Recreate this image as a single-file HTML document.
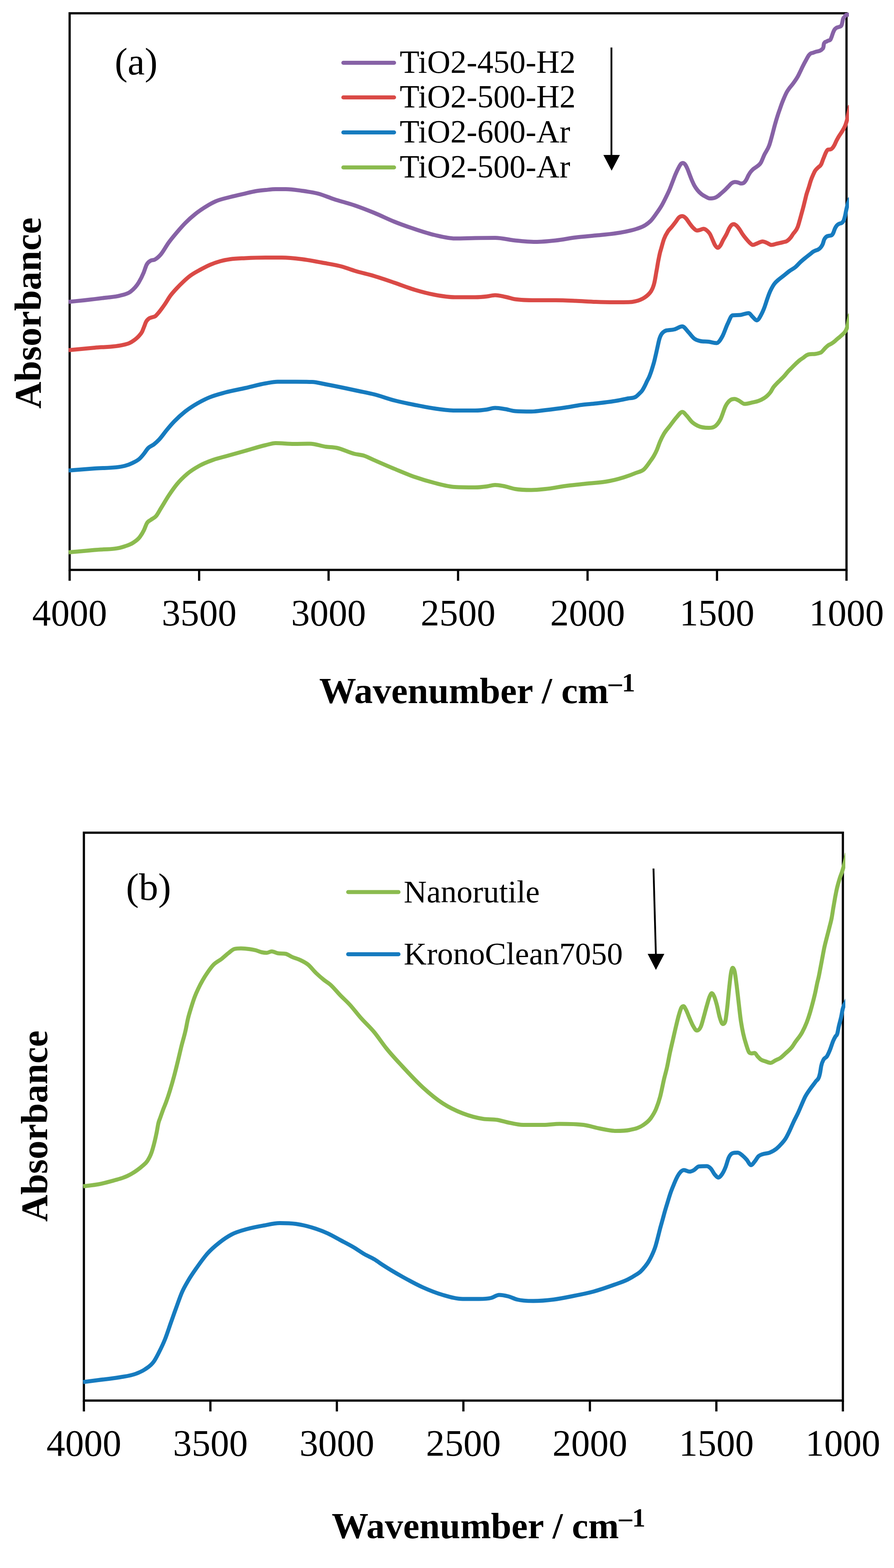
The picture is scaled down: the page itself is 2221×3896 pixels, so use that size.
<!DOCTYPE html>
<html><head><meta charset="utf-8"><title>FTIR spectra</title>
<style>
html,body{margin:0;padding:0;background:#fff;}
svg{display:block;}
.tick{font-family:"Liberation Serif","Times New Roman",serif;font-size:93px;text-anchor:middle;fill:#000;}
.leg{font-family:"Liberation Serif","Times New Roman",serif;font-size:80px;fill:#000;}
.lbl{font-family:"Liberation Serif","Times New Roman",serif;font-size:96px;fill:#000;}
.ttl{font-family:"Liberation Serif","Times New Roman",serif;font-size:93px;font-weight:bold;fill:#000;}
.wav{font-family:"Liberation Serif","Times New Roman",serif;font-size:92px;font-weight:bold;fill:#000;}
</style></head><body>
<svg width="2221" height="3896" viewBox="0 0 2221 3896">
<defs>
<clipPath id="ca"><rect x="150" y="0" width="1959" height="1500"/></clipPath>
<clipPath id="cb"><rect x="180" y="2000" width="1920" height="1600"/></clipPath>
</defs>
<rect width="2221" height="3896" fill="#fff"/>

<rect x="173.0" y="33.0" width="1930.0" height="1383.0" fill="none" stroke="#000" stroke-width="5.5"/>
<line x1="173.0" y1="1416.0" x2="173.0" y2="1443.0" stroke="#000" stroke-width="5.5"/>
<text x="173.0" y="1554.0" class="tick">4000</text>
<line x1="494.7" y1="1416.0" x2="494.7" y2="1443.0" stroke="#000" stroke-width="5.5"/>
<text x="494.7" y="1554.0" class="tick">3500</text>
<line x1="816.3" y1="1416.0" x2="816.3" y2="1443.0" stroke="#000" stroke-width="5.5"/>
<text x="816.3" y="1554.0" class="tick">3000</text>
<line x1="1138.0" y1="1416.0" x2="1138.0" y2="1443.0" stroke="#000" stroke-width="5.5"/>
<text x="1138.0" y="1554.0" class="tick">2500</text>
<line x1="1459.7" y1="1416.0" x2="1459.7" y2="1443.0" stroke="#000" stroke-width="5.5"/>
<text x="1459.7" y="1554.0" class="tick">2000</text>
<line x1="1781.3" y1="1416.0" x2="1781.3" y2="1443.0" stroke="#000" stroke-width="5.5"/>
<text x="1781.3" y="1554.0" class="tick">1500</text>
<line x1="2103.0" y1="1416.0" x2="2103.0" y2="1443.0" stroke="#000" stroke-width="5.5"/>
<text x="2103.0" y="1554.0" class="tick">1000</text>
<path d="M170.5 1372.5 C192.0 1370.5 213.5 1368.8 235.0 1366.5 C260.0 1363.9 285.0 1366.5 310.0 1357.5 C316.7 1355.1 323.3 1353.4 330.0 1349.0 C335.8 1345.2 341.7 1341.9 347.5 1334.0 C350.8 1329.5 354.2 1324.3 357.5 1317.5 C360.0 1312.4 362.5 1304.2 365.0 1300.0 C368.3 1294.3 371.7 1294.1 375.0 1291.5 C379.2 1288.2 383.3 1287.3 387.5 1282.5 C391.7 1277.7 395.8 1269.2 400.0 1262.5 C406.7 1251.8 413.3 1240.0 420.0 1230.0 C426.7 1220.0 433.3 1210.6 440.0 1202.5 C448.3 1192.4 456.7 1184.6 465.0 1177.5 C475.0 1169.0 485.0 1163.1 495.0 1157.5 C506.7 1151.0 518.3 1146.6 530.0 1142.5 C540.0 1139.0 550.0 1136.8 560.0 1134.0 C576.7 1129.3 593.3 1124.7 610.0 1120.0 C626.7 1115.3 643.3 1109.8 660.0 1106.0 C668.3 1104.1 676.7 1101.0 685.0 1101.0 C700.0 1101.0 715.0 1103.0 730.0 1103.0 C743.3 1103.0 756.7 1102.5 770.0 1102.5 C783.3 1102.5 796.7 1108.2 810.0 1110.0 C818.3 1111.1 826.7 1111.0 835.0 1112.5 C850.0 1115.2 865.0 1123.8 880.0 1127.5 C888.3 1129.6 896.7 1129.8 905.0 1132.5 C913.3 1135.2 921.7 1139.9 930.0 1143.5 C946.7 1150.8 963.3 1158.1 980.0 1165.0 C996.7 1171.9 1013.3 1179.2 1030.0 1185.0 C1046.7 1190.8 1063.3 1195.8 1080.0 1200.0 C1096.7 1204.2 1113.3 1209.0 1130.0 1210.0 C1146.7 1211.0 1163.3 1211.0 1180.0 1211.0 C1190.0 1211.0 1200.0 1209.9 1210.0 1208.5 C1216.7 1207.6 1223.3 1205.0 1230.0 1205.0 C1236.7 1205.0 1243.3 1206.3 1250.0 1207.5 C1260.0 1209.2 1270.0 1213.3 1280.0 1215.0 C1293.3 1217.3 1306.7 1217.5 1320.0 1217.5 C1331.7 1217.5 1343.3 1216.2 1355.0 1215.0 C1371.7 1213.3 1388.3 1209.7 1405.0 1207.5 C1420.0 1205.6 1435.0 1204.2 1450.0 1202.5 C1471.7 1200.1 1493.3 1199.5 1515.0 1195.0 C1526.7 1192.6 1538.3 1189.7 1550.0 1186.0 C1560.0 1182.8 1570.0 1179.2 1580.0 1175.0 C1586.7 1172.2 1593.3 1172.2 1600.0 1166.0 C1604.9 1161.4 1609.9 1154.0 1614.8 1147.0 C1618.1 1142.3 1621.4 1138.1 1624.7 1132.2 C1627.2 1127.8 1629.6 1123.1 1632.1 1117.4 C1634.6 1111.6 1637.1 1103.5 1639.6 1097.6 C1642.9 1089.8 1646.2 1083.5 1649.5 1077.8 C1654.4 1069.2 1659.4 1064.5 1664.3 1058.0 C1670.1 1050.4 1675.8 1042.0 1681.6 1035.8 C1686.1 1030.9 1690.7 1023.4 1695.2 1023.4 C1698.9 1023.4 1702.6 1029.5 1706.3 1033.3 C1710.4 1037.6 1714.6 1044.2 1718.7 1048.1 C1723.6 1052.8 1728.6 1055.5 1733.5 1058.0 C1742.6 1062.5 1751.6 1063.0 1760.7 1063.0 C1766.5 1063.0 1772.2 1063.0 1778.0 1058.0 C1782.1 1054.4 1786.3 1048.9 1790.4 1040.7 C1794.5 1032.5 1798.7 1016.4 1802.8 1008.6 C1806.9 1000.8 1811.0 996.5 1815.1 993.7 C1818.4 991.5 1821.7 991.3 1825.0 991.3 C1828.3 991.3 1831.6 993.5 1834.9 995.0 C1839.9 997.3 1844.8 1003.6 1849.8 1003.6 C1856.4 1003.6 1862.9 1001.4 1869.5 999.9 C1874.5 998.8 1879.4 998.2 1884.4 996.2 C1892.2 993.1 1899.9 989.7 1907.7 981.7 C1909.9 979.4 1912.2 977.2 1914.4 974.0 C1916.7 970.8 1918.9 965.7 1921.2 962.5 C1923.7 958.9 1926.3 956.5 1928.8 953.8 C1932.0 950.3 1935.3 947.4 1938.5 944.2 C1941.7 941.0 1944.9 938.1 1948.1 934.6 C1951.3 931.1 1954.5 926.6 1957.7 923.1 C1960.9 919.6 1964.1 916.7 1967.3 913.5 C1970.5 910.3 1973.7 906.9 1976.9 903.8 C1980.1 900.8 1983.3 897.7 1986.5 895.2 C1989.7 892.6 1993.0 890.9 1996.2 888.5 C1998.7 886.6 2001.3 884.1 2003.8 882.7 C2006.1 881.5 2008.3 880.7 2010.6 880.3 C2015.4 879.5 2020.2 880.2 2025.0 879.5 C2028.1 879.0 2031.2 878.5 2034.3 877.5 C2036.4 876.8 2038.4 876.6 2040.5 875.1 C2042.1 873.9 2043.8 871.8 2045.4 870.1 C2047.3 868.1 2049.1 865.8 2051.0 863.9 C2053.0 861.8 2055.1 859.9 2057.1 858.4 C2059.8 856.4 2062.5 855.8 2065.2 854.1 C2068.3 852.2 2071.3 849.9 2074.4 847.3 C2076.5 845.6 2078.5 843.5 2080.6 841.7 C2082.7 839.9 2084.7 838.5 2086.8 836.7 C2088.9 835.0 2090.9 833.2 2093.0 831.2 C2095.1 829.2 2097.1 827.6 2099.2 824.4 C2100.6 822.2 2102.1 820.7 2103.5 816.4 C2104.5 813.3 2105.6 809.6 2106.6 804.6 C2107.2 801.7 2107.8 797.7 2108.4 794.7 C2109.6 788.7 2110.8 784.9 2112.0 780.0" fill="none" stroke="#8BBB4F" stroke-width="10" stroke-linejoin="round" stroke-linecap="butt" clip-path="url(#ca)"/>
<path d="M170.5 1169.0 C192.0 1167.3 213.5 1165.8 235.0 1164.0 C260.0 1162.0 285.0 1164.0 310.0 1157.5 C316.7 1155.8 323.3 1153.4 330.0 1150.0 C335.8 1147.0 341.7 1144.6 347.5 1139.0 C350.8 1135.8 354.2 1131.7 357.5 1127.5 C360.8 1123.3 364.2 1117.6 367.5 1114.0 C372.5 1108.6 377.5 1108.0 382.5 1104.0 C386.7 1100.6 390.8 1096.9 395.0 1092.5 C401.7 1085.5 408.3 1075.5 415.0 1067.5 C420.8 1060.5 426.7 1053.6 432.5 1047.5 C441.7 1037.9 450.8 1029.8 460.0 1022.5 C470.0 1014.6 480.0 1008.3 490.0 1002.5 C500.0 996.7 510.0 991.7 520.0 987.5 C533.3 981.9 546.7 978.6 560.0 975.0 C576.7 970.5 593.3 967.8 610.0 964.0 C626.7 960.2 643.3 955.3 660.0 952.5 C670.0 950.8 680.0 948.5 690.0 948.5 C705.0 948.5 720.0 948.5 735.0 948.5 C748.3 948.5 761.7 948.5 775.0 949.0 C786.7 949.4 798.3 952.9 810.0 955.0 C826.7 958.1 843.3 961.5 860.0 965.0 C869.3 967.0 878.7 969.0 888.0 971.0 C902.0 974.0 916.0 976.5 930.0 980.0 C946.7 984.2 963.3 990.7 980.0 995.0 C996.7 999.3 1013.3 1002.7 1030.0 1006.0 C1046.7 1009.3 1063.3 1012.7 1080.0 1015.0 C1096.7 1017.3 1113.3 1020.0 1130.0 1020.0 C1146.7 1020.0 1163.3 1020.0 1180.0 1020.0 C1190.0 1020.0 1200.0 1019.0 1210.0 1017.5 C1216.7 1016.5 1223.3 1013.5 1230.0 1013.5 C1238.3 1013.5 1246.7 1015.2 1255.0 1016.5 C1263.3 1017.8 1271.7 1020.9 1280.0 1021.5 C1293.3 1022.5 1306.7 1022.5 1320.0 1022.5 C1331.7 1022.5 1343.3 1020.3 1355.0 1019.0 C1371.7 1017.1 1388.3 1015.0 1405.0 1012.5 C1418.3 1010.5 1431.7 1007.7 1445.0 1006.0 C1456.7 1004.5 1468.3 1003.8 1480.0 1002.5 C1496.7 1000.6 1513.3 998.9 1530.0 996.0 C1540.0 994.3 1550.0 992.1 1560.0 990.0 C1566.7 988.6 1573.3 990.0 1580.0 985.5 C1582.6 983.7 1585.2 981.1 1587.8 978.5 C1590.4 975.9 1593.1 973.8 1595.7 969.9 C1597.8 966.9 1599.8 963.0 1601.9 958.9 C1603.7 955.3 1605.6 951.0 1607.4 947.2 C1609.2 943.4 1611.1 940.5 1612.9 936.2 C1614.5 932.5 1616.0 928.3 1617.6 923.7 C1618.9 919.9 1620.2 915.5 1621.5 911.2 C1622.8 906.9 1624.1 902.9 1625.4 897.8 C1626.4 893.8 1627.5 889.0 1628.5 884.5 C1629.6 879.9 1630.6 875.3 1631.7 870.5 C1632.7 865.9 1633.8 861.0 1634.8 856.4 C1635.8 851.8 1636.9 846.8 1637.9 843.1 C1639.2 838.5 1640.5 835.6 1641.8 832.9 C1643.9 828.5 1646.0 826.9 1648.1 825.0 C1650.4 822.8 1652.8 821.8 1655.1 821.1 C1656.7 820.6 1658.4 820.7 1660.0 820.5 C1665.0 819.9 1670.0 819.7 1675.0 818.5 C1681.7 816.9 1688.3 811.0 1695.0 811.0 C1700.0 811.0 1705.0 819.9 1710.0 825.0 C1715.0 830.1 1720.0 837.8 1725.0 841.5 C1730.0 845.2 1735.0 846.4 1740.0 847.5 C1746.7 849.0 1753.3 848.2 1760.0 849.0 C1766.7 849.8 1773.3 852.5 1780.0 852.5 C1785.0 852.5 1790.0 844.2 1795.0 835.0 C1799.2 827.3 1803.3 813.6 1807.5 805.0 C1811.7 796.4 1815.8 784.1 1820.0 783.5 C1826.7 782.5 1833.3 783.4 1840.0 782.5 C1846.7 781.6 1853.3 778.0 1860.0 778.0 C1863.3 778.0 1866.7 784.5 1870.0 787.5 C1873.3 790.5 1876.7 796.0 1880.0 796.0 C1883.8 796.0 1887.7 788.2 1891.5 781.0 C1894.1 776.2 1896.6 770.4 1899.2 763.5 C1901.1 758.3 1903.1 751.8 1905.0 746.2 C1906.9 740.6 1908.9 734.6 1910.8 729.8 C1912.7 725.0 1914.6 721.0 1916.5 717.3 C1918.8 712.8 1921.0 709.0 1923.3 705.8 C1926.8 700.8 1930.3 698.4 1933.8 695.2 C1938.3 691.1 1942.8 688.2 1947.3 684.6 C1952.1 680.8 1956.9 676.6 1961.7 673.1 C1966.5 669.6 1971.4 667.6 1976.2 663.5 C1980.4 660.0 1984.5 654.9 1988.7 651.0 C1992.9 647.1 1997.0 643.8 2001.2 640.4 C2005.7 636.7 2010.1 633.4 2014.6 629.8 C2016.4 628.4 2018.2 626.7 2020.0 625.5 C2022.2 624.1 2024.3 623.4 2026.5 622.4 C2028.7 621.4 2030.8 621.2 2033.0 619.8 C2035.2 618.4 2037.4 617.0 2039.6 613.9 C2041.1 611.8 2042.6 609.9 2044.1 606.1 C2045.2 603.3 2046.3 598.4 2047.4 595.7 C2049.1 591.4 2050.9 590.1 2052.6 588.5 C2054.8 586.4 2056.9 586.5 2059.1 585.9 C2061.3 585.2 2063.5 585.9 2065.7 584.6 C2067.2 583.7 2068.7 581.8 2070.2 578.7 C2071.5 576.1 2072.8 571.2 2074.1 568.3 C2075.6 564.9 2077.2 562.5 2078.7 560.5 C2080.9 557.7 2083.0 557.1 2085.2 555.9 C2087.4 554.7 2089.6 555.4 2091.8 553.3 C2093.3 551.9 2094.8 551.3 2096.3 547.4 C2097.4 544.5 2098.5 540.5 2099.6 535.7 C2100.5 531.9 2101.3 526.6 2102.2 522.6 C2103.1 518.6 2103.9 514.8 2104.8 511.5 C2105.7 508.2 2106.5 505.6 2107.4 503.0 C2108.9 498.5 2110.5 495.7 2112.0 492.0" fill="none" stroke="#167BBF" stroke-width="10" stroke-linejoin="round" stroke-linecap="butt" clip-path="url(#ca)"/>
<path d="M170.5 870.0 C192.0 868.0 213.5 866.1 235.0 864.0 C259.5 861.6 284.0 863.0 308.5 856.4 C312.6 855.3 316.8 854.6 320.9 852.7 C325.0 850.9 329.2 848.4 333.3 845.3 C337.4 842.2 341.5 839.0 345.6 834.2 C348.1 831.3 350.5 829.3 353.0 824.3 C354.7 820.9 356.3 816.1 358.0 811.9 C359.6 807.8 361.3 802.8 362.9 799.6 C365.0 795.6 367.0 793.9 369.1 792.1 C372.0 789.5 374.9 789.5 377.8 788.4 C380.3 787.5 382.7 787.6 385.2 786.0 C387.7 784.4 390.1 781.3 392.6 778.5 C395.5 775.2 398.4 771.3 401.3 767.4 C403.8 764.1 406.3 760.6 408.8 757.0 C413.7 749.9 418.7 741.0 423.6 734.3 C428.6 727.6 433.5 722.4 438.5 717.0 C444.3 710.7 450.0 705.0 455.8 699.6 C461.6 694.2 467.3 689.1 473.1 684.8 C481.3 678.6 489.6 674.5 497.8 670.0 C506.1 665.5 514.3 661.1 522.6 657.6 C530.8 654.1 539.1 651.3 547.3 649.0 C555.5 646.7 563.8 645.2 572.0 644.0 C584.4 642.2 596.7 642.1 609.1 641.5 C626.1 640.6 643.0 640.0 660.0 640.0 C673.3 640.0 686.7 640.0 700.0 640.0 C716.7 640.0 733.3 641.9 750.0 644.0 C766.7 646.1 783.3 649.4 800.0 652.5 C816.7 655.6 833.3 657.8 850.0 662.5 C860.0 665.3 870.0 669.4 880.0 672.5 C896.7 677.7 913.3 681.0 930.0 686.0 C946.7 691.0 963.3 696.8 980.0 702.5 C996.7 708.2 1013.3 715.0 1030.0 720.0 C1046.7 725.0 1063.3 729.4 1080.0 732.5 C1096.7 735.6 1113.3 738.5 1130.0 738.5 C1146.7 738.5 1163.3 738.5 1180.0 738.5 C1190.0 738.5 1200.0 737.7 1210.0 736.5 C1216.7 735.7 1223.3 733.5 1230.0 733.5 C1238.3 733.5 1246.7 735.8 1255.0 737.5 C1263.3 739.2 1271.7 742.2 1280.0 743.5 C1296.7 746.0 1313.3 746.0 1330.0 746.0 C1346.7 746.0 1363.3 746.0 1380.0 746.0 C1396.7 746.0 1413.3 746.8 1430.0 747.5 C1446.7 748.2 1463.3 749.4 1480.0 750.0 C1496.7 750.6 1513.3 751.0 1530.0 751.0 C1540.7 751.0 1551.3 751.0 1562.0 750.8 C1567.5 750.7 1573.0 749.9 1578.5 748.6 C1582.2 747.7 1585.8 746.8 1589.5 745.3 C1593.1 743.8 1596.8 742.2 1600.4 739.8 C1603.7 737.7 1607.0 735.4 1610.3 732.1 C1612.5 729.9 1614.7 728.0 1616.9 724.4 C1618.7 721.4 1620.6 718.6 1622.4 713.4 C1623.5 710.3 1624.6 707.2 1625.7 702.4 C1626.4 699.2 1627.2 695.4 1627.9 691.4 C1628.6 687.4 1629.4 682.4 1630.1 678.2 C1630.8 674.0 1631.6 670.4 1632.3 666.2 C1633.0 662.0 1633.8 657.1 1634.5 653.0 C1635.4 647.8 1636.4 643.2 1637.3 638.7 C1638.2 634.4 1639.1 630.1 1640.0 626.6 C1640.7 623.7 1641.5 621.5 1642.2 619.0 C1644.6 610.6 1647.1 601.0 1649.5 594.2 C1652.8 585.1 1656.0 580.1 1659.3 575.0 C1662.5 569.9 1665.8 567.6 1669.0 563.6 C1672.2 559.7 1675.4 555.5 1678.6 551.3 C1681.3 547.7 1684.1 542.7 1686.8 540.3 C1689.7 537.8 1692.5 537.1 1695.4 537.1 C1698.3 537.1 1701.3 539.7 1704.2 542.6 C1707.1 545.5 1710.1 550.9 1713.0 554.7 C1715.9 558.6 1718.9 562.8 1721.8 565.7 C1725.1 569.0 1728.3 572.8 1731.6 572.8 C1734.2 572.8 1736.7 571.9 1739.3 571.2 C1742.2 570.4 1745.2 568.4 1748.1 568.4 C1751.0 568.4 1754.0 570.8 1756.9 573.4 C1759.1 575.4 1761.3 577.4 1763.5 581.0 C1765.7 584.6 1767.9 590.5 1770.1 595.3 C1772.3 600.1 1774.5 606.2 1776.7 609.6 C1778.9 613.0 1781.1 615.7 1783.3 615.7 C1785.5 615.7 1787.7 612.8 1789.9 609.6 C1792.1 606.4 1794.3 600.5 1796.5 596.4 C1799.1 591.6 1801.6 588.1 1804.2 583.2 C1806.8 578.3 1809.3 571.2 1811.9 566.8 C1813.7 563.7 1815.6 560.8 1817.4 559.1 C1819.2 557.5 1821.1 556.9 1822.9 556.9 C1825.4 556.9 1828.0 558.9 1830.5 561.3 C1833.1 563.7 1835.6 567.4 1838.2 571.2 C1840.3 574.2 1842.3 578.1 1844.4 581.2 C1847.6 586.0 1850.8 589.9 1854.0 593.7 C1856.6 596.8 1859.1 599.9 1861.7 602.3 C1864.6 605.0 1867.5 608.6 1870.4 608.6 C1873.6 608.6 1876.8 606.4 1880.0 605.2 C1884.8 603.5 1889.6 599.9 1894.4 599.9 C1897.9 599.9 1901.5 601.9 1905.0 603.3 C1908.8 604.8 1912.7 608.6 1916.5 608.6 C1921.3 608.6 1926.2 606.3 1931.0 605.2 C1935.8 604.1 1940.6 603.1 1945.4 601.8 C1948.6 600.9 1951.8 600.9 1955.0 598.9 C1958.2 596.9 1961.4 593.9 1964.6 589.8 C1966.6 587.3 1968.5 583.9 1970.5 581.0 C1974.2 575.5 1977.9 574.4 1981.6 564.3 C1983.3 559.8 1984.9 553.7 1986.6 547.9 C1988.1 542.7 1989.6 537.0 1991.1 531.5 C1992.6 526.0 1994.1 520.8 1995.6 515.0 C1997.0 509.8 1998.3 504.1 1999.7 498.6 C2001.1 493.1 2002.4 487.1 2003.8 482.2 C2005.6 475.7 2007.4 471.5 2009.2 465.7 C2010.8 460.5 2012.5 454.2 2014.1 449.3 C2016.3 442.7 2018.5 437.7 2020.7 432.9 C2022.1 429.9 2023.4 427.0 2024.8 424.7 C2027.3 420.5 2029.7 419.0 2032.2 416.4 C2034.8 413.6 2037.4 413.7 2040.0 408.5 C2041.5 405.4 2043.1 400.4 2044.6 396.5 C2045.9 393.1 2047.3 389.7 2048.6 386.5 C2049.7 383.8 2050.9 380.7 2052.0 378.5 C2053.5 375.5 2055.1 372.2 2056.6 371.8 C2058.8 371.2 2061.1 371.8 2063.3 371.2 C2065.1 370.7 2066.8 369.3 2068.6 367.2 C2070.2 365.4 2071.7 362.8 2073.3 359.9 C2074.8 357.0 2076.4 353.0 2077.9 349.9 C2079.7 346.3 2081.5 343.0 2083.3 339.9 C2085.5 336.2 2087.7 333.4 2089.9 329.9 C2091.9 326.7 2093.9 323.8 2095.9 319.9 C2097.5 316.9 2099.0 314.2 2100.6 309.9 C2101.9 306.2 2103.3 302.3 2104.6 296.6 C2105.7 291.9 2106.8 285.2 2107.9 280.0 C2109.3 273.5 2110.6 268.0 2112.0 262.0" fill="none" stroke="#DA4A46" stroke-width="10" stroke-linejoin="round" stroke-linecap="butt" clip-path="url(#ca)"/>
<path d="M170.5 750.0 C183.7 748.7 196.8 747.4 210.0 746.0 C226.7 744.2 243.3 742.3 260.0 740.0 C273.3 738.2 286.7 738.0 300.0 734.0 C308.2 731.6 316.5 731.0 324.7 724.4 C331.3 719.1 337.9 713.0 344.5 702.1 C348.6 695.2 352.8 687.4 356.9 677.4 C359.4 671.4 361.8 662.4 364.3 657.6 C367.6 651.1 370.9 649.8 374.2 647.7 C377.5 645.6 380.8 646.8 384.1 645.2 C389.0 642.8 394.0 638.4 398.9 632.9 C405.5 625.5 412.1 612.3 418.7 603.2 C425.3 594.1 431.9 586.3 438.5 578.5 C445.9 569.7 453.3 561.2 460.7 553.7 C469.0 545.3 477.2 538.1 485.5 531.5 C493.7 524.9 502.0 519.4 510.2 514.2 C518.4 509.1 526.7 504.3 534.9 500.6 C547.3 495.0 559.6 492.8 572.0 489.5 C584.4 486.2 596.7 483.6 609.1 480.8 C617.7 478.8 626.4 476.5 635.0 475.0 C643.3 473.6 651.7 472.8 660.0 472.0 C668.3 471.2 676.7 470.0 685.0 470.0 C693.3 470.0 701.7 470.0 710.0 470.0 C723.3 470.0 736.7 472.2 750.0 474.0 C763.3 475.8 776.7 477.5 790.0 481.0 C803.3 484.5 816.7 490.6 830.0 495.0 C846.7 500.5 863.3 504.3 880.0 510.0 C896.7 515.7 913.3 522.2 930.0 529.0 C946.7 535.8 963.3 544.3 980.0 551.0 C996.7 557.7 1013.3 563.5 1030.0 569.0 C1046.7 574.5 1063.3 580.1 1080.0 584.0 C1096.7 587.9 1113.3 592.5 1130.0 592.5 C1146.7 592.5 1163.3 591.8 1180.0 591.5 C1196.7 591.2 1213.3 591.0 1230.0 591.0 C1246.7 591.0 1263.3 595.8 1280.0 597.5 C1296.7 599.2 1313.3 601.0 1330.0 601.0 C1346.7 601.0 1363.3 599.3 1380.0 597.5 C1396.7 595.7 1413.3 592.1 1430.0 590.0 C1446.7 587.9 1463.3 586.7 1480.0 585.0 C1495.8 583.4 1511.7 582.3 1527.5 580.0 C1536.7 578.7 1545.8 577.2 1555.0 575.3 C1564.1 573.4 1573.3 571.6 1582.4 568.4 C1589.3 566.0 1596.1 564.0 1603.0 559.5 C1607.6 556.5 1612.2 553.3 1616.8 548.5 C1621.4 543.7 1625.9 537.1 1630.5 530.7 C1635.1 524.3 1639.6 518.0 1644.2 510.0 C1648.0 503.4 1651.7 495.8 1655.5 488.0 C1658.2 482.4 1661.0 476.9 1663.7 470.4 C1666.1 464.7 1668.5 458.0 1670.9 451.8 C1673.3 445.6 1675.7 439.0 1678.1 433.3 C1680.5 427.6 1682.9 422.3 1685.3 417.8 C1687.4 413.9 1689.4 409.6 1691.5 407.5 C1693.2 405.7 1695.0 405.0 1696.7 405.0 C1698.7 405.0 1700.8 406.7 1702.8 409.6 C1704.5 412.1 1706.3 415.9 1708.0 419.9 C1709.7 423.8 1711.4 428.9 1713.1 433.3 C1714.8 437.8 1716.6 442.6 1718.3 446.7 C1720.4 451.6 1722.4 456.2 1724.5 460.1 C1727.2 465.2 1730.0 468.9 1732.7 472.4 C1736.1 476.8 1739.6 479.9 1743.0 482.7 C1746.4 485.4 1749.9 487.2 1753.3 488.9 C1756.7 490.6 1760.2 493.0 1763.6 493.0 C1767.0 493.0 1770.5 493.0 1773.9 492.0 C1777.3 491.0 1780.8 489.4 1784.2 486.8 C1786.1 485.4 1788.1 483.4 1790.0 481.7 C1793.1 479.0 1796.2 476.6 1799.3 473.7 C1802.4 470.8 1805.4 467.5 1808.5 464.4 C1811.6 461.3 1814.7 457.1 1817.8 455.1 C1820.5 453.4 1823.1 452.3 1825.8 452.3 C1828.3 452.3 1830.8 452.7 1833.3 453.3 C1835.8 453.9 1838.2 456.0 1840.7 456.0 C1843.0 456.0 1845.2 456.0 1847.5 454.5 C1849.6 453.1 1851.6 450.5 1853.7 447.1 C1855.5 444.1 1857.4 439.3 1859.2 436.0 C1860.9 433.0 1862.5 430.2 1864.2 427.9 C1866.2 425.1 1868.3 423.0 1870.3 421.1 C1872.8 418.7 1875.3 417.6 1877.8 415.6 C1882.0 412.3 1886.1 411.4 1890.3 404.1 C1893.0 399.3 1895.8 391.2 1898.5 385.3 C1902.8 376.1 1907.0 372.8 1911.3 360.3 C1913.7 353.3 1916.1 344.0 1918.5 335.2 C1920.7 327.2 1922.9 318.0 1925.1 310.1 C1927.6 301.1 1930.1 292.8 1932.6 285.1 C1934.3 279.8 1936.1 275.0 1937.8 270.0 C1939.3 265.7 1940.8 261.3 1942.3 257.3 C1944.2 252.1 1946.2 247.4 1948.1 242.9 C1950.3 237.7 1952.6 232.6 1954.8 228.5 C1957.0 224.6 1959.1 221.8 1961.3 218.8 C1963.9 215.3 1966.4 212.6 1969.0 209.2 C1971.3 206.1 1973.7 203.1 1976.0 199.6 C1978.0 196.6 1980.0 193.6 1982.0 190.0 C1983.7 187.0 1985.3 183.4 1987.0 180.0 C1989.4 175.1 1991.8 169.8 1994.2 165.0 C1997.2 159.0 2000.2 153.3 2003.2 148.0 C2005.3 144.3 2007.3 140.1 2009.4 137.4 C2010.8 135.6 2012.1 134.3 2013.5 133.3 C2015.6 131.8 2017.6 131.9 2019.7 131.2 C2022.5 130.3 2025.2 129.1 2028.0 128.3 C2030.7 127.5 2033.5 127.6 2036.2 126.3 C2038.3 125.3 2040.3 124.8 2042.4 122.1 C2043.5 120.7 2044.6 122.1 2045.7 116.8 C2046.0 115.5 2046.2 112.3 2046.5 110.6 C2047.2 106.2 2047.9 106.8 2048.6 105.7 C2050.0 103.6 2051.3 104.3 2052.7 103.6 C2054.1 102.8 2055.6 102.0 2057.0 101.2 C2059.1 100.1 2061.1 101.2 2063.2 98.2 C2064.2 96.7 2065.3 93.7 2066.3 90.9 C2067.3 88.2 2068.4 84.4 2069.4 81.7 C2070.6 78.6 2071.8 75.9 2073.0 73.9 C2074.9 70.8 2076.7 70.0 2078.6 68.8 C2080.8 67.4 2083.1 67.9 2085.3 66.7 C2087.0 65.8 2088.8 66.7 2090.5 63.1 C2091.2 61.6 2091.9 59.0 2092.6 55.9 C2093.1 53.7 2093.6 50.3 2094.1 48.2 C2095.5 42.5 2096.8 44.0 2098.2 42.0 C2099.4 40.3 2100.6 37.4 2101.8 37.0 C2103.2 36.5 2104.6 36.5 2106.0 36.5 C2108.0 36.5 2110.0 36.5 2112.0 36.5" fill="none" stroke="#8762A6" stroke-width="10" stroke-linejoin="round" stroke-linecap="butt" clip-path="url(#ca)"/>
<text x="285" y="184.5" class="lbl">(a)</text>
<line x1="853" y1="156.0" x2="979" y2="156.0" stroke="#8762A6" stroke-width="10" stroke-linecap="round"/>
<text x="993" y="181.0" class="leg">TiO2-450-H2</text>
<line x1="853" y1="242.0" x2="979" y2="242.0" stroke="#DA4A46" stroke-width="10" stroke-linecap="round"/>
<text x="993" y="267.0" class="leg">TiO2-500-H2</text>
<line x1="853" y1="329.0" x2="979" y2="329.0" stroke="#167BBF" stroke-width="10" stroke-linecap="round"/>
<text x="993" y="354.0" class="leg">TiO2-600-Ar</text>
<line x1="853" y1="416.0" x2="979" y2="416.0" stroke="#8BBB4F" stroke-width="10" stroke-linecap="round"/>
<text x="993" y="441.0" class="leg">TiO2-500-Ar</text>
<line x1="1519" y1="118" x2="1519" y2="390" stroke="#000" stroke-width="4.5"/>
<polygon points="1499,385 1540,385 1519.5,424" fill="#000"/>
<text transform="translate(100.5,777.8) rotate(-90)" text-anchor="middle" class="ttl">Absorbance</text>
<text x="793" y="1746.5" class="wav">Wavenumber / cm<tspan font-size="66" dy="-29">–1</tspan></text>
<rect x="208.4" y="2069.0" width="1885.6" height="1411.0" fill="none" stroke="#000" stroke-width="5.5"/>
<line x1="208.4" y1="3480.0" x2="208.4" y2="3507.0" stroke="#000" stroke-width="5.5"/>
<text x="208.4" y="3617.0" class="tick">4000</text>
<line x1="522.7" y1="3480.0" x2="522.7" y2="3507.0" stroke="#000" stroke-width="5.5"/>
<text x="522.7" y="3617.0" class="tick">3500</text>
<line x1="836.9" y1="3480.0" x2="836.9" y2="3507.0" stroke="#000" stroke-width="5.5"/>
<text x="836.9" y="3617.0" class="tick">3000</text>
<line x1="1151.2" y1="3480.0" x2="1151.2" y2="3507.0" stroke="#000" stroke-width="5.5"/>
<text x="1151.2" y="3617.0" class="tick">2500</text>
<line x1="1465.5" y1="3480.0" x2="1465.5" y2="3507.0" stroke="#000" stroke-width="5.5"/>
<text x="1465.5" y="3617.0" class="tick">2000</text>
<line x1="1779.7" y1="3480.0" x2="1779.7" y2="3507.0" stroke="#000" stroke-width="5.5"/>
<text x="1779.7" y="3617.0" class="tick">1500</text>
<line x1="2094.0" y1="3480.0" x2="2094.0" y2="3507.0" stroke="#000" stroke-width="5.5"/>
<text x="2094.0" y="3617.0" class="tick">1000</text>
<path d="M206.5 3434.0 C219.3 3432.3 232.2 3430.7 245.0 3429.0 C261.7 3426.8 278.3 3425.5 295.0 3422.5 C310.0 3419.8 325.0 3418.7 340.0 3412.5 C346.7 3409.7 353.3 3407.1 360.0 3402.5 C367.5 3397.4 375.0 3393.6 382.5 3382.5 C386.7 3376.4 390.8 3368.2 395.0 3360.0 C400.0 3350.2 405.0 3340.0 410.0 3327.5 C415.0 3315.0 420.0 3299.1 425.0 3285.0 C429.2 3273.3 433.3 3261.4 437.5 3250.0 C442.5 3236.3 447.5 3221.3 452.5 3210.0 C457.5 3198.7 462.5 3190.6 467.5 3182.0 C475.0 3169.1 482.5 3158.7 490.0 3148.0 C498.3 3136.2 506.7 3124.5 515.0 3115.0 C525.0 3103.6 535.0 3095.4 545.0 3087.5 C555.0 3079.6 565.0 3072.8 575.0 3067.5 C588.3 3060.4 601.7 3057.2 615.0 3053.5 C628.3 3049.8 641.7 3047.4 655.0 3045.0 C668.3 3042.6 681.7 3039.0 695.0 3039.0 C708.3 3039.0 721.7 3039.2 735.0 3041.0 C748.3 3042.8 761.7 3046.0 775.0 3050.0 C788.3 3054.0 801.7 3058.8 815.0 3065.0 C825.0 3069.7 835.0 3075.6 845.0 3081.0 C856.7 3087.3 868.3 3093.0 880.0 3100.0 C888.3 3105.0 896.7 3111.2 905.0 3116.0 C913.3 3120.8 921.7 3123.9 930.0 3129.0 C936.7 3133.0 943.3 3138.1 950.0 3142.5 C966.7 3153.4 983.3 3163.2 1000.0 3172.5 C1016.7 3181.8 1033.3 3191.0 1050.0 3198.5 C1066.7 3206.0 1083.3 3212.7 1100.0 3217.5 C1116.7 3222.3 1133.3 3227.5 1150.0 3227.5 C1163.3 3227.5 1176.7 3227.5 1190.0 3227.5 C1200.0 3227.5 1210.0 3227.5 1220.0 3225.0 C1226.7 3223.3 1233.3 3217.5 1240.0 3217.5 C1247.5 3217.5 1255.0 3219.1 1262.5 3221.0 C1270.0 3222.9 1277.5 3227.1 1285.0 3229.0 C1298.3 3232.5 1311.7 3232.5 1325.0 3232.5 C1341.7 3232.5 1358.3 3231.1 1375.0 3229.0 C1391.7 3226.9 1408.3 3223.3 1425.0 3220.0 C1441.7 3216.7 1458.3 3213.6 1475.0 3209.0 C1491.7 3204.4 1508.3 3198.5 1525.0 3192.5 C1536.7 3188.3 1548.3 3184.9 1560.0 3179.0 C1566.7 3175.6 1573.3 3171.8 1580.0 3167.4 C1583.7 3165.0 1587.3 3163.0 1591.0 3159.7 C1594.6 3156.4 1598.3 3152.3 1601.9 3147.7 C1604.8 3144.0 1607.8 3140.4 1610.7 3135.6 C1613.3 3131.4 1615.8 3126.8 1618.4 3121.4 C1621.7 3114.5 1624.9 3107.8 1628.2 3097.3 C1630.2 3090.9 1632.2 3083.0 1634.2 3075.3 C1636.0 3068.3 1637.9 3060.4 1639.7 3053.4 C1641.7 3045.7 1643.8 3038.9 1645.8 3031.5 C1647.8 3024.3 1649.8 3016.6 1651.8 3009.6 C1654.0 3001.9 1656.2 2994.9 1658.4 2987.7 C1660.7 2980.3 1662.9 2972.5 1665.2 2965.8 C1668.0 2957.5 1670.9 2950.7 1673.7 2943.8 C1676.1 2938.0 1678.4 2932.1 1680.8 2927.4 C1683.7 2921.5 1686.7 2916.5 1689.6 2913.2 C1692.8 2909.6 1695.9 2907.3 1699.1 2907.3 C1703.6 2907.3 1708.2 2911.1 1712.7 2911.1 C1716.4 2911.1 1720.2 2909.3 1723.9 2907.3 C1728.0 2905.1 1732.1 2898.6 1736.2 2898.2 C1742.8 2897.5 1749.4 2897.5 1756.0 2897.5 C1759.3 2897.5 1762.6 2900.1 1765.9 2903.6 C1769.2 2907.1 1772.5 2914.7 1775.8 2918.5 C1778.7 2921.8 1781.5 2925.9 1784.4 2925.9 C1787.3 2925.9 1790.2 2922.5 1793.1 2918.5 C1796.4 2913.9 1799.7 2907.2 1803.0 2898.7 C1805.5 2892.3 1807.9 2881.8 1810.4 2876.4 C1813.7 2869.1 1817.0 2866.3 1820.3 2865.3 C1824.4 2864.1 1828.6 2864.1 1832.7 2864.1 C1836.8 2864.1 1840.9 2868.1 1845.0 2871.5 C1848.3 2874.2 1851.6 2877.7 1854.9 2881.4 C1858.6 2885.5 1862.3 2895.0 1866.0 2895.0 C1868.9 2895.0 1871.8 2889.7 1874.7 2886.3 C1878.0 2882.4 1881.3 2875.8 1884.6 2872.7 C1887.9 2869.6 1891.2 2869.1 1894.5 2867.8 C1900.3 2865.5 1906.0 2866.4 1911.8 2864.1 C1917.6 2861.8 1923.3 2858.9 1929.1 2854.2 C1933.2 2850.8 1937.4 2846.5 1941.5 2841.8 C1944.7 2838.2 1947.8 2834.9 1951.0 2830.0 C1954.9 2824.0 1958.8 2815.6 1962.7 2807.4 C1965.8 2800.9 1968.8 2793.3 1971.9 2786.8 C1975.3 2779.5 1978.8 2773.6 1982.2 2766.2 C1985.2 2759.7 1988.2 2752.3 1991.2 2745.5 C1994.3 2738.5 1997.3 2730.9 2000.4 2724.9 C2004.9 2716.2 2009.3 2710.7 2013.8 2704.3 C2018.0 2698.2 2022.3 2693.4 2026.5 2687.2 C2029.5 2682.8 2032.5 2684.5 2035.5 2673.4 C2036.1 2671.1 2036.8 2668.6 2037.4 2665.5 C2038.3 2660.9 2039.3 2653.2 2040.2 2648.6 C2042.1 2639.2 2044.0 2636.9 2045.9 2633.1 C2048.7 2627.4 2051.5 2629.1 2054.3 2624.7 C2057.1 2620.2 2060.0 2613.4 2062.8 2606.3 C2065.1 2600.4 2067.5 2592.1 2069.8 2586.6 C2071.7 2582.1 2073.6 2578.4 2075.5 2575.3 C2076.9 2573.0 2078.3 2573.9 2079.7 2569.7 C2081.1 2565.5 2082.5 2556.1 2083.9 2550.0 C2085.8 2541.7 2087.7 2536.1 2089.6 2527.4 C2091.0 2521.0 2092.4 2511.7 2093.8 2506.3 C2095.0 2501.8 2096.1 2498.9 2097.3 2496.4 C2098.2 2494.5 2099.1 2493.6 2100.0 2492.0 C2102.0 2488.5 2104.0 2484.0 2106.0 2480.0" fill="none" stroke="#167BBF" stroke-width="10" stroke-linejoin="round" stroke-linecap="butt" clip-path="url(#cb)"/>
<path d="M206.5 2947.5 C219.3 2945.8 232.2 2944.9 245.0 2942.5 C258.3 2940.0 271.7 2936.2 285.0 2932.5 C291.4 2930.7 297.7 2929.2 304.1 2926.9 C308.2 2925.4 312.4 2923.8 316.5 2921.9 C320.6 2920.0 324.8 2917.8 328.9 2915.3 C333.0 2912.8 337.1 2910.1 341.2 2907.1 C345.3 2904.1 349.5 2900.9 353.6 2897.2 C357.7 2893.5 361.9 2891.2 366.0 2884.8 C369.4 2879.5 372.9 2874.1 376.3 2864.2 C378.7 2857.4 381.0 2849.0 383.4 2839.5 C385.3 2832.0 387.1 2823.8 389.0 2814.7 C390.6 2807.1 392.1 2796.4 393.7 2790.0 C395.3 2783.5 396.9 2780.8 398.5 2776.2 C400.7 2769.9 402.9 2763.3 405.1 2757.4 C407.6 2750.7 410.1 2745.4 412.6 2738.6 C415.7 2730.1 418.9 2720.5 422.0 2710.4 C425.6 2698.8 429.2 2686.3 432.8 2672.8 C435.9 2661.0 439.1 2648.0 442.2 2635.2 C445.2 2622.9 448.2 2609.6 451.2 2597.6 C454.5 2584.4 457.8 2574.7 461.1 2559.8 C463.0 2551.4 464.8 2540.4 466.7 2532.3 C469.3 2521.0 471.9 2513.4 474.5 2504.8 C477.5 2494.9 480.5 2485.4 483.5 2477.4 C486.5 2469.5 489.4 2463.1 492.4 2456.8 C496.0 2449.2 499.5 2442.5 503.1 2436.2 C507.5 2428.5 511.8 2421.8 516.2 2415.5 C520.8 2408.9 525.3 2402.6 529.9 2397.7 C536.8 2390.3 543.6 2388.0 550.5 2382.6 C556.5 2377.9 562.4 2372.0 568.4 2367.5 C573.0 2364.0 577.5 2359.2 582.1 2358.0 C587.6 2356.5 593.1 2356.5 598.6 2356.5 C605.7 2356.5 612.9 2357.2 620.0 2358.2 C625.0 2358.9 630.0 2359.7 635.0 2361.0 C640.0 2362.3 645.0 2364.9 650.0 2366.0 C654.2 2366.9 658.3 2367.5 662.5 2367.5 C666.7 2367.5 670.8 2364.0 675.0 2364.0 C680.0 2364.0 685.0 2367.5 690.0 2368.5 C696.7 2369.9 703.3 2368.5 710.0 2370.0 C715.0 2371.1 720.0 2375.3 725.0 2377.5 C731.7 2380.5 738.3 2381.8 745.0 2385.0 C751.7 2388.2 758.3 2391.1 765.0 2396.5 C771.7 2401.9 778.3 2411.1 785.0 2417.5 C791.7 2423.9 798.3 2429.7 805.0 2435.0 C810.0 2439.0 815.0 2441.7 820.0 2446.0 C828.3 2453.1 836.7 2463.9 845.0 2472.5 C853.3 2481.1 861.7 2488.3 870.0 2497.5 C878.3 2506.7 886.7 2517.9 895.0 2527.5 C906.7 2540.9 918.3 2550.9 930.0 2565.0 C940.0 2577.1 950.0 2592.6 960.0 2605.0 C973.3 2621.6 986.7 2635.6 1000.0 2650.0 C1016.7 2668.0 1033.3 2686.2 1050.0 2701.5 C1066.7 2716.8 1083.3 2730.7 1100.0 2741.5 C1116.7 2752.3 1133.3 2760.1 1150.0 2766.5 C1166.7 2772.9 1183.3 2777.4 1200.0 2780.0 C1211.7 2781.8 1223.3 2780.5 1235.0 2782.5 C1243.3 2783.9 1251.7 2786.7 1260.0 2788.5 C1273.3 2791.3 1286.7 2795.0 1300.0 2795.0 C1316.7 2795.0 1333.3 2795.0 1350.0 2795.0 C1363.3 2795.0 1376.7 2792.5 1390.0 2792.5 C1410.0 2792.5 1430.0 2792.5 1450.0 2795.0 C1463.3 2796.7 1476.7 2801.5 1490.0 2804.0 C1503.3 2806.5 1516.7 2810.0 1530.0 2810.0 C1541.7 2810.0 1553.3 2810.0 1565.0 2807.5 C1575.7 2805.2 1586.3 2803.4 1597.0 2796.0 C1603.7 2791.4 1610.3 2787.5 1617.0 2778.0 C1621.3 2771.8 1625.7 2765.7 1630.0 2755.0 C1633.3 2746.8 1636.7 2737.5 1640.0 2725.0 C1643.3 2712.5 1646.7 2693.9 1650.0 2680.0 C1652.4 2670.1 1654.7 2662.6 1657.1 2652.0 C1659.6 2641.0 1662.0 2626.5 1664.5 2615.0 C1667.0 2603.5 1669.4 2593.5 1671.9 2582.8 C1674.4 2572.1 1676.8 2560.8 1679.3 2550.6 C1681.8 2540.2 1684.3 2529.4 1686.8 2521.0 C1688.8 2514.2 1690.9 2507.0 1692.9 2503.6 C1694.6 2500.8 1696.2 2499.9 1697.9 2499.9 C1700.0 2499.9 1702.0 2504.8 1704.1 2508.6 C1706.6 2513.1 1709.0 2520.2 1711.5 2525.9 C1714.8 2533.5 1718.1 2542.4 1721.4 2548.2 C1724.7 2554.0 1728.0 2560.5 1731.3 2560.5 C1734.6 2560.5 1737.9 2558.3 1741.2 2550.6 C1743.7 2544.8 1746.1 2534.6 1748.6 2525.9 C1751.1 2517.2 1753.5 2507.1 1756.0 2498.7 C1758.5 2490.2 1760.9 2480.5 1763.4 2475.2 C1765.1 2471.6 1766.7 2467.8 1768.4 2467.8 C1770.4 2467.8 1772.5 2471.7 1774.5 2476.4 C1776.6 2481.1 1778.6 2488.6 1780.7 2496.2 C1783.2 2505.4 1785.7 2520.3 1788.2 2528.4 C1790.7 2536.3 1793.1 2544.4 1795.6 2544.4 C1797.6 2544.4 1799.7 2544.4 1801.7 2538.3 C1803.4 2533.3 1805.0 2517.8 1806.7 2503.6 C1808.3 2489.7 1810.0 2468.9 1811.6 2454.2 C1813.3 2439.2 1814.9 2422.8 1816.6 2414.6 C1817.8 2408.5 1819.1 2404.7 1820.3 2404.7 C1821.9 2404.7 1823.6 2407.3 1825.2 2414.6 C1826.9 2422.0 1828.5 2436.3 1830.2 2449.2 C1831.8 2461.9 1833.5 2477.4 1835.1 2491.3 C1836.8 2505.5 1838.4 2521.4 1840.1 2533.3 C1842.2 2548.1 1844.2 2558.2 1846.3 2567.9 C1848.8 2579.5 1851.2 2587.3 1853.7 2595.1 C1856.2 2602.9 1858.6 2611.9 1861.1 2614.9 C1863.2 2617.4 1865.2 2617.4 1867.3 2617.4 C1869.8 2617.4 1872.2 2616.2 1874.7 2616.2 C1877.2 2616.2 1879.6 2622.1 1882.1 2624.8 C1884.6 2627.5 1887.0 2630.3 1889.5 2632.2 C1893.6 2635.4 1897.8 2635.7 1901.9 2637.2 C1906.0 2638.6 1910.2 2640.9 1914.3 2640.9 C1918.4 2640.9 1922.5 2636.8 1926.6 2634.7 C1930.7 2632.6 1934.9 2631.4 1939.0 2628.5 C1943.1 2625.6 1947.3 2621.3 1951.4 2617.4 C1957.2 2612.0 1963.0 2608.1 1968.8 2600.0 C1970.9 2597.1 1972.9 2593.5 1975.0 2590.4 C1980.9 2581.5 1986.7 2576.2 1992.6 2565.3 C1996.5 2558.1 2000.3 2550.5 2004.2 2540.3 C2007.0 2532.9 2009.8 2524.6 2012.6 2515.2 C2014.9 2507.5 2017.2 2499.0 2019.5 2490.1 C2021.5 2482.2 2023.6 2474.2 2025.6 2465.1 C2027.3 2457.3 2029.1 2447.4 2030.8 2440.0 C2031.6 2436.6 2032.4 2433.9 2033.2 2430.4 C2034.9 2423.2 2036.5 2413.9 2038.2 2405.3 C2039.8 2397.2 2041.3 2388.6 2042.9 2380.3 C2044.5 2371.9 2046.1 2362.7 2047.7 2355.2 C2049.8 2345.5 2051.8 2338.3 2053.9 2330.1 C2056.0 2321.6 2058.2 2313.7 2060.3 2305.1 C2062.3 2297.0 2064.3 2290.8 2066.3 2280.0 C2067.5 2273.5 2068.7 2265.0 2069.9 2257.8 C2071.3 2249.2 2072.8 2240.6 2074.2 2232.8 C2075.9 2223.7 2077.5 2215.1 2079.2 2207.7 C2081.5 2197.5 2083.8 2190.1 2086.1 2182.7 C2088.3 2175.6 2090.5 2171.0 2092.7 2163.9 C2094.5 2158.2 2096.2 2151.8 2098.0 2145.0 C2100.0 2137.3 2102.0 2128.3 2104.0 2120.0" fill="none" stroke="#8BBB4F" stroke-width="10" stroke-linejoin="round" stroke-linecap="butt" clip-path="url(#cb)"/>
<text x="313" y="2236" class="lbl">(b)</text>
<line x1="865" y1="2216.5" x2="990" y2="2216.5" stroke="#8BBB4F" stroke-width="10" stroke-linecap="round"/>
<text x="1003" y="2241.5" class="leg" style="font-size:79px">Nanorutile</text>
<line x1="865" y1="2371.0" x2="990" y2="2371.0" stroke="#167BBF" stroke-width="10" stroke-linecap="round"/>
<text x="1003" y="2396.0" class="leg" style="font-size:79px">KronoClean7050</text>
<line x1="1623.5" y1="2158" x2="1629.5" y2="2375" stroke="#000" stroke-width="4.5"/>
<polygon points="1609,2370 1650.5,2370 1629.5,2410" fill="#000"/>
<text transform="translate(116.5,2798) rotate(-90)" text-anchor="middle" class="ttl">Absorbance</text>
<text x="824" y="3821.5" class="wav" style="font-size:91.3px">Wavenumber / cm<tspan font-size="66" dy="-29">–1</tspan></text>
</svg>
</body></html>
